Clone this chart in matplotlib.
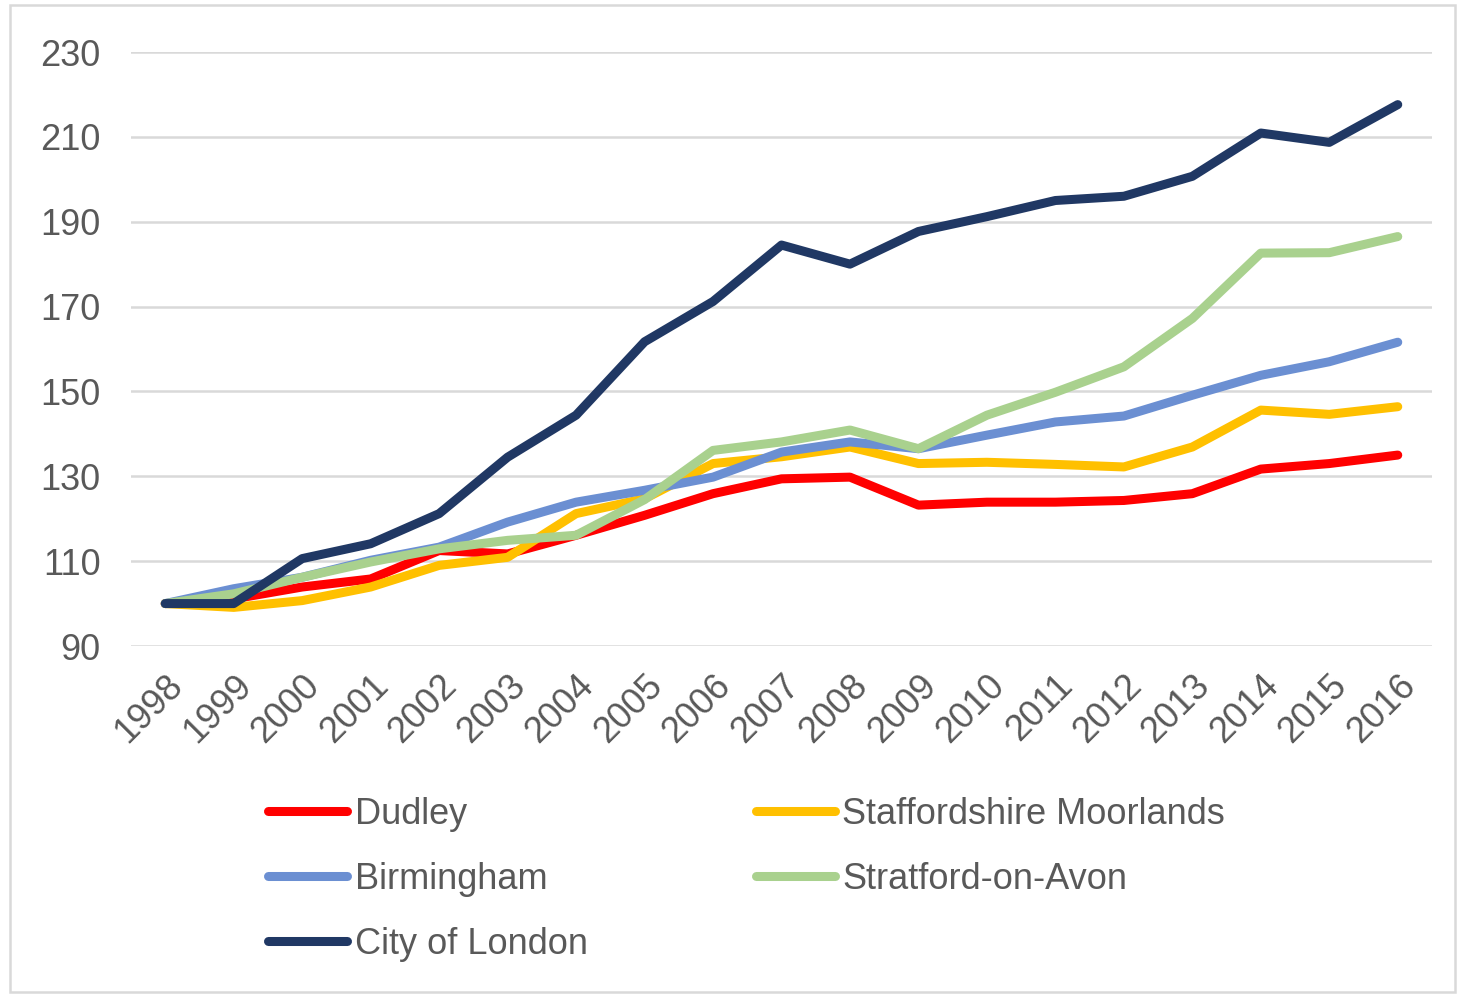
import matplotlib.pyplot as plt
from matplotlib.patches import Rectangle

years = [str(y) for y in range(1998, 2017)]

dudley = [100, 101.1, 103.9, 105.8, 112.5, 111.7, 116.1, 120.8, 125.9, 129.4,
          129.8, 123.2, 123.9, 123.9, 124.3, 125.9, 131.7, 133.0, 135.0]
staffs = [100, 99.1, 100.7, 103.9, 109.0, 110.9, 121.2, 124.7, 133.0, 134.6,
          136.9, 133.0, 133.3, 132.8, 132.2, 136.9, 145.6, 144.6, 146.4]
birmingham = [100, 103.5, 106.2, 110.2, 113.3, 119.2, 123.9, 126.7, 129.8, 135.7,
              138.1, 136.5, 139.7, 142.8, 144.2, 149.1, 153.8, 157.0, 161.6]
stratford = [100, 102.3, 106.2, 109.8, 112.9, 114.9, 116.1, 124.5, 136.1, 138.1,
             140.9, 136.5, 144.4, 149.8, 155.8, 167.2, 182.6, 182.7, 186.5]
city = [100, 100, 110.6, 114.1, 121.2, 134.5, 144.4, 161.7, 171.2, 184.5,
        180.0, 187.7, 191.2, 195.0, 196.0, 200.7, 210.9, 208.7, 217.6]

series = [
    ('Dudley', dudley, '#FF0000'),
    ('Staffordshire Moorlands', staffs, '#FFC000'),
    ('Birmingham', birmingham, '#6B8FD2'),
    ('Stratford-on-Avon', stratford, '#A9D18E'),
    ('City of London', city, '#203864'),
]

plt.rcParams['font.family'] = ['Liberation Sans', 'DejaVu Sans']

fig = plt.figure(figsize=(14.63, 9.94), dpi=100)
fig.patches.append(Rectangle((10 / 1463, 1 - 992 / 994), 1445 / 1463, 987 / 994,
                             transform=fig.transFigure, fill=False,
                             edgecolor='#D9D9D9', linewidth=1.8))

ax = fig.add_axes([131 / 1463, 1 - 646 / 994, (1432 - 131) / 1463, (646 - 52) / 994])

x = list(range(len(years)))
lines = {}
for name, vals, col in series:
    ln, = ax.plot(x, vals, color=col, lw=6.5, solid_capstyle='round',
                  solid_joinstyle='round', label=name, zorder=3)
    lines[name] = ln

ax.set_xlim(-0.5, len(years) - 0.5)
ax.set_ylim(90, 230)
ax.set_yticks(range(90, 231, 20))
ax.set_xticks(x)
ax.set_xticklabels(years, rotation=45, ha='right', rotation_mode='anchor')
ax.grid(axis='y', color='#D9D9D9', lw=1.8)
ax.set_axisbelow(True)
for s in ax.spines.values():
    s.set_visible(False)
ax.tick_params(length=0, labelsize=26, colors='#595959')
ax.tick_params(axis='y', pad=22)
ax.tick_params(axis='x', pad=16)

# legend order so that ncol=2 fills rows like the original
order = ['Dudley', 'Birmingham', 'City of London', 'Staffordshire Moorlands', 'Stratford-on-Avon']
leg = fig.legend([lines[n] for n in order], order, ncol=2, frameon=False,
                 loc='upper left', bbox_to_anchor=(268 / 1463, 1 - 797 / 994),
                 fontsize=26, handlelength=2.2, handletextpad=0.2,
                 columnspacing=4.65, labelspacing=0.83, borderpad=0, borderaxespad=0)
for t in leg.get_texts():
    t.set_color('#595959')

fig.savefig('out.png', dpi=100)
